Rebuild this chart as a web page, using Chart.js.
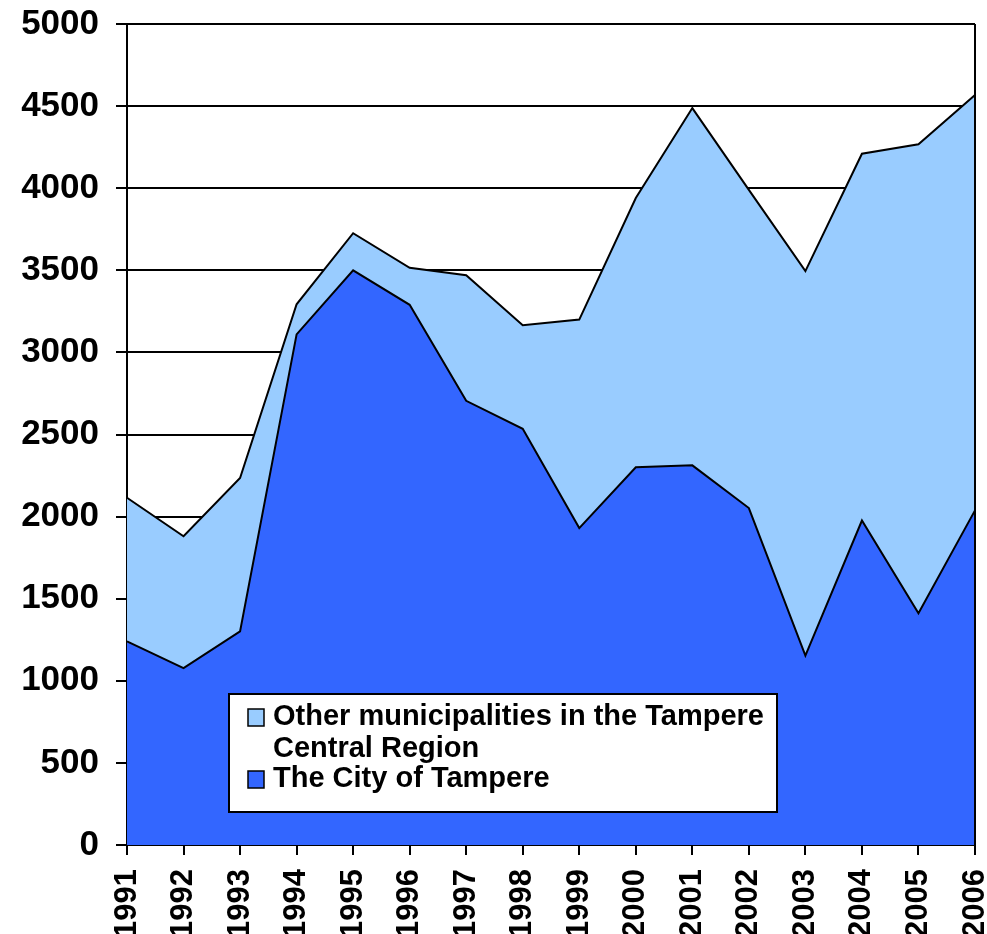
<!DOCTYPE html>
<html>
<head>
<meta charset="utf-8">
<script src="https://cdn.jsdelivr.net/npm/chart.js@4.4.0/dist/chart.umd.min.js"></script>
<style>
  html, body { margin: 0; padding: 0; background: #fff; overflow: hidden; }
  #wrap { width: 987px; height: 934px; overflow: hidden; }
</style>
</head>
<body>
<div id="wrap"><canvas id="chart" width="987" height="948"></canvas></div>
<script>
// Data
const years = ["1991", "1992", "1993", "1994", "1995", "1996", "1997", "1998",
  "1999", "2000", "2001", "2002", "2003", "2004", "2005", "2006"];
const cityOfTampere = [1240, 1077, 1301, 3110, 3500, 3290, 2705, 2535,
  1930, 2300, 2312, 2052, 1153, 1976, 1412, 2038];
const otherMunicipalities = [875, 803, 934, 183, 226, 225, 765, 630,
  1270, 1640, 2176, 1938, 2342, 2234, 2856, 2529];
const yMin = 0;
const yMax = 5000;
const yStep = 500;

const labelCity = "The City of Tampere";
const labelOther = ["Other municipalities in the Tampere", "Central Region"];

const FONT = "'Liberation Sans', Arial, sans-serif";
const LIGHT = "#99CCFF";
const DARK = "#3366FF";

// legend box drawn inside the plot, like the original
const boxLegend = {
  id: "boxLegend",
  afterDraw(chart) {
    const ctx = chart.ctx;
    const area = chart.chartArea;
    // right edge of the plot
    ctx.save();
    ctx.strokeStyle = "#000";
    ctx.lineWidth = 2;
    ctx.beginPath();
    ctx.moveTo(area.right, area.top);
    ctx.lineTo(area.right, area.bottom);
    ctx.stroke();

    const x = 229, y = 694, w = 548, h = 118;
    ctx.fillStyle = "#fff";
    ctx.fillRect(x, y, w, h);
    ctx.lineWidth = 2;
    ctx.strokeRect(x, y, w, h);

    ctx.font = "bold 29px " + FONT;
    ctx.textBaseline = "middle";
    const entries = [
      { color: LIGHT, lines: labelOther, y: 717 },
      { color: DARK, lines: [labelCity], y: 779 },
    ];
    entries.forEach((e) => {
      ctx.fillStyle = e.color;
      ctx.fillRect(248, e.y - 8, 16, 17);
      ctx.lineWidth = 1.5;
      ctx.strokeRect(248, e.y - 8, 16, 17);
      ctx.fillStyle = "#000";
      e.lines.forEach((line, i) => {
        ctx.fillText(line, 273, e.y + i * 32);
      });
    });
    ctx.restore();
  },
};

const ctx = document.getElementById("chart").getContext("2d");
new Chart(ctx, {
  type: "line",
  data: {
    labels: years,
    datasets: [
      {
        label: labelCity,
        data: cityOfTampere,
        backgroundColor: DARK,
        borderColor: "#000",
        borderWidth: 2,
        fill: "origin",
        pointRadius: 0,
        tension: 0,
      },
      {
        label: labelOther.join(" "),
        data: otherMunicipalities,
        backgroundColor: LIGHT,
        borderColor: "#000",
        borderWidth: 2,
        fill: "-1",
        pointRadius: 0,
        tension: 0,
      },
    ],
  },
  options: {
    responsive: false,
    animation: false,
    layout: { padding: { top: 24, right: 12, left: 0, bottom: 0 } },
    plugins: {
      legend: { display: false },
      tooltip: { enabled: false },
    },
    scales: {
      x: {
        offset: false,
        grid: {
          drawOnChartArea: false,
          drawTicks: true,
          tickLength: 10,
          color: "#000",
          lineWidth: 2,
        },
        border: { display: true, color: "#000", width: 2 },
        ticks: {
          autoSkip: false,
          maxRotation: 90,
          minRotation: 90,
          padding: 14,
          color: "#000",
          font: { family: FONT, size: 31, weight: "bold" },
        },
        afterFit(scale) {
          scale.height = 948 - 845;
          // keep the plot edge where the original has it
          scale.paddingLeft = 0;
          scale.paddingRight = 0;
        },
      },
      y: {
        stacked: true,
        min: yMin,
        max: yMax,
        grid: {
          color: "#000",
          lineWidth: 2,
          tickLength: 11,
        },
        border: { display: true, color: "#000", width: 2 },
        ticks: {
          stepSize: yStep,
          padding: 17,
          color: "#000",
          font: { family: FONT, size: 35, weight: "bold" },
          callback: (v) => String(v),
        },
        afterFit(scale) {
          scale.width = 127;
          scale.paddingTop = 0;
          scale.paddingBottom = 0;
        },
      },
    },
  },
  plugins: [boxLegend],
});
</script>
</body>
</html>
